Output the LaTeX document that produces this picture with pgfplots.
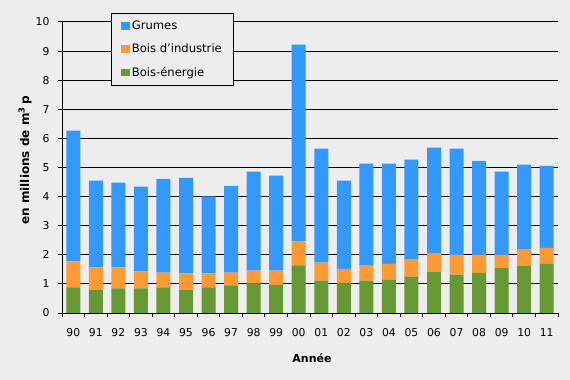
\documentclass[border=0pt]{standalone}
\usepackage{pgfplots}
\pgfplotsset{compat=1.18}
\usepackage{pgfplotstable}
\usepackage{fontspec}
\setmainfont{DejaVu Sans}
\definecolor{bg}{HTML}{EDEDED}
\definecolor{cblue}{HTML}{3399FF}
\definecolor{corange}{HTML}{FF9933}
\definecolor{cgreen}{HTML}{669933}
\pgfplotstableread{
x g o b
0 0.88 0.89 4.50
1 0.80 0.77 2.98
2 0.85 0.72 2.91
3 0.85 0.58 2.91
4 0.88 0.51 3.22
5 0.80 0.56 3.28
6 0.88 0.48 2.65
7 0.95 0.44 2.98
8 1.01 0.45 3.40
9 0.97 0.49 3.26
10 1.64 0.82 6.76
11 1.11 0.62 3.92
12 1.01 0.51 3.03
13 1.11 0.52 3.50
14 1.14 0.55 3.44
15 1.25 0.58 3.44
16 1.42 0.62 3.64
17 1.32 0.68 3.65
18 1.38 0.62 3.23
19 1.56 0.44 2.86
20 1.63 0.55 2.92
21 1.69 0.55 2.82
}\data
\begin{document}
\begin{tikzpicture}
\fill[bg] (0,0) rectangle (570bp,380bp);
\useasboundingbox (0,0) rectangle (570bp,380bp);
\begin{axis}[
  at={(62bp,67bp)}, anchor=south west,
  scale only axis, width=496bp, height=291bp,
  xmin=-0.5, xmax=21.5, ymin=0, ymax=10,
  ybar stacked, bar width=14bp,
  legend image code/.code={\fill[#1] (0bp,-3.8bp) rectangle (9.3bp,3.6bp);},
  axis x line*=bottom, axis y line*=left,
  axis line style={-, black, line width=1bp},
  xtick={0,...,21},
  xticklabels={90,91,92,93,94,95,96,97,98,99,00,01,02,03,04,05,06,07,08,09,10,11},
  major x tick style={draw=none},
  minor xtick={-0.5,0.5,...,21.5},
  ytick={0,...,10},
  ymajorgrids, grid style={black, line width=1bp},
  tick align=outside,
  major tick length=4bp, minor tick length=4bp,
  tick style={black, line width=1bp},
  ticklabel style={font=\fontsize{10.8bp}{12bp}\selectfont},
  xticklabel style={yshift=-8bp},
  yticklabel style={xshift=-5bp},
  /pgf/number format/assume math mode=true,
  xlabel={Année},
  ylabel={en millions de m\textsuperscript{3}\,p},
  xlabel style={font=\bfseries\fontsize{11bp}{13bp}\selectfont, at={(axis description cs:0.504,-0.155)}, anchor=center},
  ylabel style={font=\bfseries\fontsize{12bp}{14bp}\selectfont, at={(axis description cs:-0.0746,0.524)}, anchor=center, rotate=0},
  reverse legend,
  legend cell align=left,
  legend style={at={(rel axis cs:0.0978,1.031)}, anchor=north west, draw=black, line width=1bp, fill=bg,
    font=\fontsize{11.6bp}{13bp}\selectfont, row sep=9bp, inner xsep=9.5bp, inner ysep=5.2bp},
]
\addplot[fill=cgreen, draw=none] table[x=x, y=g] {\data};
\addplot[fill=corange, draw=none] table[x=x, y=o] {\data};
\addplot[fill=cblue, draw=none] table[x=x, y=b] {\data};
\legend{Bois-énergie, Bois d’industrie, Grumes}
\end{axis}
\end{tikzpicture}
\end{document}
